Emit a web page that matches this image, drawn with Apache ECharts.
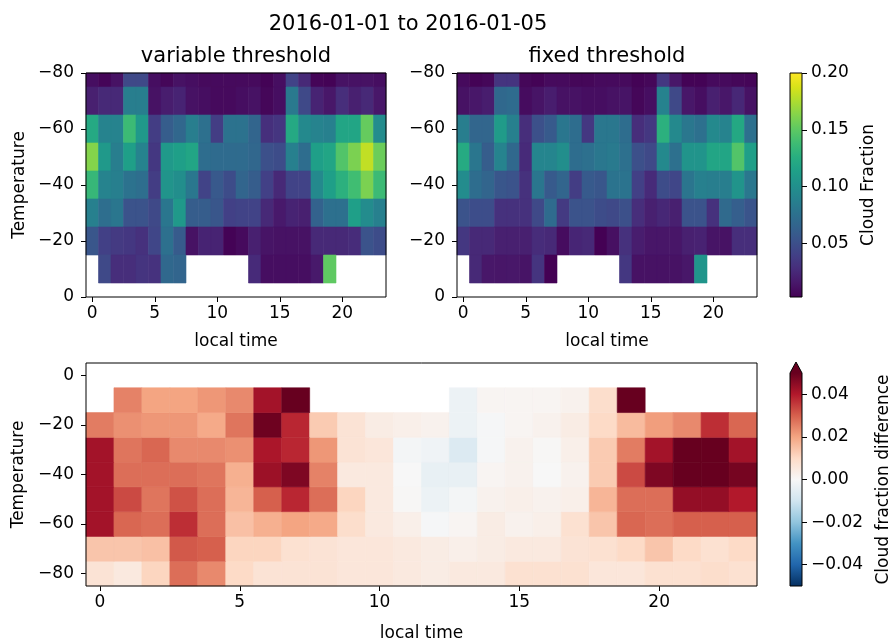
<!DOCTYPE html>
<html>
<head>
<meta charset="utf-8">
<title>cloud fraction by local time</title>
<script src="https://cdn.jsdelivr.net/npm/echarts@6/dist/echarts.min.js"></script>
<style>
  html, body { margin: 0; padding: 0; background: #fff; }
  #chart { width: 892px; height: 642px; }
</style>
</head>
<body>
<div id="chart"></div>
<script>
const hours = [0, 1, 2, 3, 4, 5, 6, 7, 8, 9, 10, 11, 12, 13, 14, 15, 16, 17, 18, 19, 20, 21, 22, 23]
const temps = [-80, -70, -60, -50, -40, -30, -20, -10]

// rows follow temps, columns follow hours (null = no data)
const variableCf = [
  [0.010, 0.005, 0.012, 0.046, 0.046, 0.010, 0.006, 0.012, 0.010, 0.008, 0.008, 0.008, 0.008, 0.008, 0.004, 0.010, 0.042, 0.025, 0.005, 0.004, 0.012, 0.012, 0.012, 0.010],
  [0.020, 0.025, 0.025, 0.086, 0.086, 0.012, 0.018, 0.022, 0.012, 0.010, 0.008, 0.008, 0.010, 0.012, 0.006, 0.010, 0.082, 0.046, 0.022, 0.015, 0.028, 0.020, 0.025, 0.015],
  [0.122, 0.090, 0.090, 0.137, 0.108, 0.038, 0.060, 0.068, 0.086, 0.075, 0.038, 0.077, 0.077, 0.066, 0.029, 0.033, 0.122, 0.095, 0.090, 0.088, 0.118, 0.118, 0.153, 0.097],
  [0.163, 0.108, 0.086, 0.113, 0.090, 0.034, 0.108, 0.113, 0.118, 0.073, 0.071, 0.071, 0.071, 0.068, 0.051, 0.048, 0.088, 0.073, 0.113, 0.118, 0.146, 0.160, 0.181, 0.155],
  [0.134, 0.090, 0.087, 0.077, 0.074, 0.038, 0.104, 0.099, 0.081, 0.042, 0.057, 0.048, 0.066, 0.060, 0.040, 0.025, 0.042, 0.042, 0.095, 0.113, 0.128, 0.139, 0.160, 0.137],
  [0.088, 0.074, 0.080, 0.053, 0.053, 0.046, 0.080, 0.108, 0.060, 0.060, 0.055, 0.040, 0.042, 0.042, 0.025, 0.016, 0.022, 0.020, 0.064, 0.075, 0.075, 0.113, 0.097, 0.088],
  [0.055, 0.040, 0.036, 0.034, 0.030, 0.044, 0.075, 0.059, 0.012, 0.022, 0.022, 0.004, 0.008, 0.020, 0.013, 0.012, 0.012, 0.012, 0.025, 0.025, 0.025, 0.027, 0.053, 0.048],
  [null, 0.046, 0.028, 0.028, 0.032, 0.031, 0.069, 0.066, null, null, null, null, null, 0.026, 0.010, 0.010, 0.010, 0.010, 0.016, 0.151, null, null, null, null]
]
const fixedCf = [
  [0.008, 0.004, 0.006, 0.032, 0.032, 0.006, 0.004, 0.008, 0.008, 0.006, 0.006, 0.008, 0.008, 0.008, 0.004, 0.006, 0.034, 0.015, 0.004, 0.004, 0.008, 0.008, 0.006, 0.005],
  [0.012, 0.015, 0.018, 0.069, 0.071, 0.009, 0.013, 0.018, 0.012, 0.012, 0.010, 0.010, 0.012, 0.013, 0.006, 0.010, 0.089, 0.046, 0.015, 0.010, 0.020, 0.015, 0.024, 0.012],
  [0.086, 0.067, 0.067, 0.110, 0.088, 0.028, 0.051, 0.058, 0.080, 0.073, 0.034, 0.081, 0.081, 0.073, 0.028, 0.034, 0.128, 0.095, 0.081, 0.075, 0.095, 0.090, 0.121, 0.075],
  [0.123, 0.080, 0.060, 0.090, 0.069, 0.026, 0.092, 0.092, 0.099, 0.073, 0.075, 0.081, 0.083, 0.075, 0.051, 0.046, 0.095, 0.075, 0.104, 0.104, 0.118, 0.118, 0.146, 0.113],
  [0.097, 0.073, 0.066, 0.055, 0.053, 0.030, 0.080, 0.058, 0.066, 0.038, 0.058, 0.055, 0.078, 0.078, 0.040, 0.026, 0.048, 0.044, 0.079, 0.088, 0.086, 0.086, 0.104, 0.081],
  [0.053, 0.049, 0.049, 0.030, 0.030, 0.030, 0.046, 0.071, 0.036, 0.053, 0.053, 0.048, 0.046, 0.051, 0.028, 0.020, 0.024, 0.020, 0.053, 0.053, 0.030, 0.070, 0.062, 0.054],
  [0.034, 0.025, 0.025, 0.020, 0.020, 0.020, 0.027, 0.025, 0.009, 0.023, 0.025, 0.003, 0.011, 0.030, 0.018, 0.014, 0.014, 0.014, 0.020, 0.021, 0.013, 0.012, 0.028, 0.028],
  [null, 0.025, 0.015, 0.014, 0.015, 0.013, 0.032, 0.003, null, null, null, null, null, 0.034, 0.012, 0.012, 0.012, 0.012, 0.015, 0.105, null, null, null, null]
]
const diffCf = [
  [0.007, 0.005, 0.011, 0.028, 0.024, 0.010, 0.007, 0.007, 0.007, 0.006, 0.006, 0.005, 0.004, 0.005, 0.005, 0.008, 0.008, 0.008, 0.006, 0.006, 0.008, 0.008, 0.009, 0.008],
  [0.014, 0.014, 0.015, 0.031, 0.030, 0.011, 0.011, 0.008, 0.007, 0.006, 0.006, 0.005, 0.004, 0.003, 0.004, 0.005, 0.005, 0.007, 0.008, 0.010, 0.014, 0.010, 0.008, 0.010],
  [0.042, 0.029, 0.028, 0.037, 0.028, 0.015, 0.018, 0.020, 0.019, 0.009, 0.005, 0.003, -0.0005, 0.001, 0.004, 0.002, 0.003, 0.008, 0.014, 0.029, 0.028, 0.030, 0.030, 0.030],
  [0.042, 0.033, 0.027, 0.032, 0.028, 0.017, 0.030, 0.038, 0.028, 0.011, 0.005, 0.0005, -0.003, -0.001, 0.002, 0.003, 0.002, 0.003, 0.017, 0.028, 0.028, 0.044, 0.044, 0.040],
  [0.042, 0.028, 0.028, 0.028, 0.027, 0.018, 0.043, 0.047, 0.025, 0.005, 0.005, 0.000, -0.004, -0.004, 0.001, 0.002, 0.000, 0.002, 0.013, 0.033, 0.047, 0.055, 0.055, 0.048],
  [0.042, 0.027, 0.029, 0.024, 0.024, 0.023, 0.041, 0.038, 0.022, 0.007, 0.006, -0.001, -0.002, -0.007, -0.0005, 0.002, 0.0005, 0.003, 0.013, 0.026, 0.042, 0.055, 0.055, 0.042],
  [0.026, 0.023, 0.022, 0.022, 0.019, 0.027, 0.049, 0.038, 0.013, 0.007, 0.004, 0.003, 0.002, -0.003, -0.0005, 0.001, 0.002, 0.004, 0.010, 0.016, 0.021, 0.024, 0.037, 0.029],
  [null, 0.025, 0.020, 0.020, 0.022, 0.024, 0.042, 0.055, null, null, null, null, null, -0.003, 0.001, 0.001, 0.001, 0.002, 0.009, 0.055, null, null, null, null]
]

const xTicks = [0, 5, 10, 15, 20]
const yTicksBottom = [0, -20, -40, -60, -80]
const cfTicks = [0.05, 0.10, 0.15, 0.20]
const diffTicks = [-0.04, -0.02, 0, 0.02, 0.04]
const cfRange = [0.003, 0.2]
const diffRange = [-0.05, 0.05]

// matplotlib colormaps, sampled
const viridis = ['#440154', '#48186a', '#472d7b', '#424086', '#3b528b', '#33638d', '#2c728e', '#26828e', '#21918c',
  '#1fa088', '#28ae80', '#3fbc73', '#5ec962', '#84d44b', '#addc30', '#d8e219', '#fde725']
const rdbuR = ['#053061', '#2166ac', '#4393c3', '#92c5de', '#d1e5f0', '#f7f7f7', '#fddbc7', '#f4a582', '#d6604d', '#b2182b', '#67001f']

const FONT = 'DejaVu Sans'
const minus = v => String(v).replace('-', '\u2212')

function cells(rows) {
  const out = []
  rows.forEach((row, i) => row.forEach((v, j) => {
    if (v !== null) out.push([hours[j], temps[i], v])
  }))
  return out
}

function heatSeries(idx, rows, colors, range) {
  return {
    type: 'custom',
    xAxisIndex: idx,
    yAxisIndex: idx,
    silent: true,
    z: 2,
    data: cells(rows),
    renderItem(params, api) {
      const x = api.value(0)
      const y = api.value(1)
      const a = api.coord([x - 0.5, y - 5])
      const b = api.coord([x + 0.5, y + 5])
      const shape = echarts.graphic.clipRectByRect({
        x: Math.min(a[0], b[0]),
        y: Math.min(a[1], b[1]),
        width: Math.abs(b[0] - a[0]),
        height: Math.abs(b[1] - a[1])
      }, params.coordSys)
      if (!shape) return
      const t = Math.max(0, Math.min(1, (api.value(2) - range[0]) / (range[1] - range[0])))
      const c = echarts.color.lerp(t, colors)
      return { type: 'rect', shape: shape, style: { fill: c, stroke: c, lineWidth: 0.6 } }
    }
  }
}

function barSeries(idx, colors, range, extendTop) {
  return {
    type: 'custom',
    xAxisIndex: idx,
    yAxisIndex: idx,
    silent: true,
    data: [[0, range[0], 1, range[1]]],
    renderItem(params, api) {
      const a = api.coord([api.value(0), api.value(1)])
      const b = api.coord([api.value(2), api.value(3)])
      const stops = colors.map((c, i) => ({ offset: i / (colors.length - 1), color: c }))
      const children = [{
        type: 'rect',
        shape: { x: a[0], y: b[1], width: b[0] - a[0], height: a[1] - b[1] },
        style: { fill: new echarts.graphic.LinearGradient(0, 1, 0, 0, stops) }
      }]
      const outline = [[a[0], a[1]], [b[0], a[1]], [b[0], b[1]]]
      if (extendTop) {
        const tip = [(a[0] + b[0]) / 2, b[1] - 11]
        children.push({
          type: 'polygon',
          shape: { points: [[a[0], b[1]], [b[0], b[1]], tip] },
          style: { fill: colors[colors.length - 1] }
        })
        outline.push(tip)
      }
      outline.push([a[0], b[1]])
      children.push({ type: 'polygon', shape: { points: outline }, style: { fill: 'none', stroke: '#000', lineWidth: 1 } })
      return { type: 'group', children: children }
    }
  }
}

const tickStyle = { color: '#000', fontSize: 17, fontFamily: FONT }
const nameStyle = { color: '#000', fontSize: 17, fontFamily: FONT }
const noLine = { show: false, onZero: false }

function timeAxis(idx, gap) {
  return {
    gridIndex: idx,
    type: 'value',
    min: -0.5,
    max: 23.5,
    axisLine: noLine,
    axisTick: { show: true, customValues: xTicks, length: 5, lineStyle: { color: '#000' } },
    axisLabel: { customValues: xTicks, margin: 8, ...tickStyle },
    splitLine: { show: false },
    name: 'local time',
    nameLocation: 'middle',
    nameGap: gap,
    nameTextStyle: nameStyle
  }
}

function tempAxisTop(idx, withName) {
  return {
    gridIndex: idx,
    type: 'value',
    min: -80,
    max: 0,
    interval: 20,
    inverse: true,
    axisLine: noLine,
    axisTick: { show: true, length: 5, lineStyle: { color: '#000' } },
    axisLabel: { margin: 12, formatter: minus, ...tickStyle },
    splitLine: { show: false },
    name: withName ? 'Temperature' : '',
    nameLocation: 'middle',
    nameGap: 58,
    nameTextStyle: nameStyle
  }
}

function barAxis(idx, range, ticks, label, gap) {
  return {
    gridIndex: idx,
    type: 'value',
    position: 'right',
    min: range[0],
    max: range[1],
    axisLine: noLine,
    axisTick: { show: true, customValues: ticks, length: 5, lineStyle: { color: '#000' } },
    axisLabel: { customValues: ticks, margin: 9, formatter: v => minus(v.toFixed(2)), ...tickStyle },
    splitLine: { show: false },
    name: label,
    nameLocation: 'middle',
    nameRotate: 90,
    nameGap: gap,
    nameTextStyle: nameStyle
  }
}

const frame = { show: true, borderColor: '#000', borderWidth: 1, backgroundColor: 'transparent', z: 10, outerBoundsMode: 'none' }

const chart = echarts.init(document.getElementById('chart'))
chart.setOption({
  animation: false,
  backgroundColor: '#fff',
  textStyle: { fontFamily: FONT },
  title: [
    { text: '2016-01-01 to 2016-01-05', left: 408, top: 14, textAlign: 'center', padding: 0,
      textStyle: { fontSize: 21, fontWeight: 'normal', color: '#000', fontFamily: FONT } },
    { text: 'variable threshold', left: 236, top: 46, textAlign: 'center', padding: 0,
      textStyle: { fontSize: 21, fontWeight: 'normal', color: '#000', fontFamily: FONT } },
    { text: 'fixed threshold', left: 607, top: 46, textAlign: 'center', padding: 0,
      textStyle: { fontSize: 21, fontWeight: 'normal', color: '#000', fontFamily: FONT } }
  ],
  grid: [
    { left: 86, top: 73, width: 300, height: 224, ...frame },
    { left: 457, top: 73, width: 300, height: 224, ...frame },
    { left: 86, top: 363, width: 671, height: 223, ...frame },
    { left: 790, top: 73, width: 12, height: 224, outerBoundsMode: 'none' },
    { left: 790, top: 373, width: 12, height: 213, outerBoundsMode: 'none' }
  ],
  xAxis: [
    timeAxis(0, 36),
    timeAxis(1, 36),
    timeAxis(2, 39),
    { gridIndex: 3, type: 'value', min: 0, max: 1, show: false },
    { gridIndex: 4, type: 'value', min: 0, max: 1, show: false }
  ],
  yAxis: [
    tempAxisTop(0, true),
    tempAxisTop(1, false),
    {
      gridIndex: 2,
      type: 'value',
      min: -85,
      max: 5,
      axisLine: noLine,
      axisTick: { show: true, customValues: yTicksBottom, length: 5, lineStyle: { color: '#000' } },
      axisLabel: { customValues: yTicksBottom, margin: 12, formatter: minus, ...tickStyle },
      splitLine: { show: false },
      name: 'Temperature',
      nameLocation: 'middle',
      nameGap: 54,
      nameTextStyle: nameStyle
    },
    barAxis(3, cfRange, cfTicks, 'Cloud Fraction', 58),
    barAxis(4, diffRange, diffTicks, 'Cloud fraction difference', 73)
  ],
  series: [
    heatSeries(0, variableCf, viridis, cfRange),
    heatSeries(1, fixedCf, viridis, cfRange),
    heatSeries(2, diffCf, rdbuR, diffRange),
    barSeries(3, viridis, cfRange, false),
    barSeries(4, rdbuR, diffRange, true)
  ]
})
</script>
</body>
</html>
